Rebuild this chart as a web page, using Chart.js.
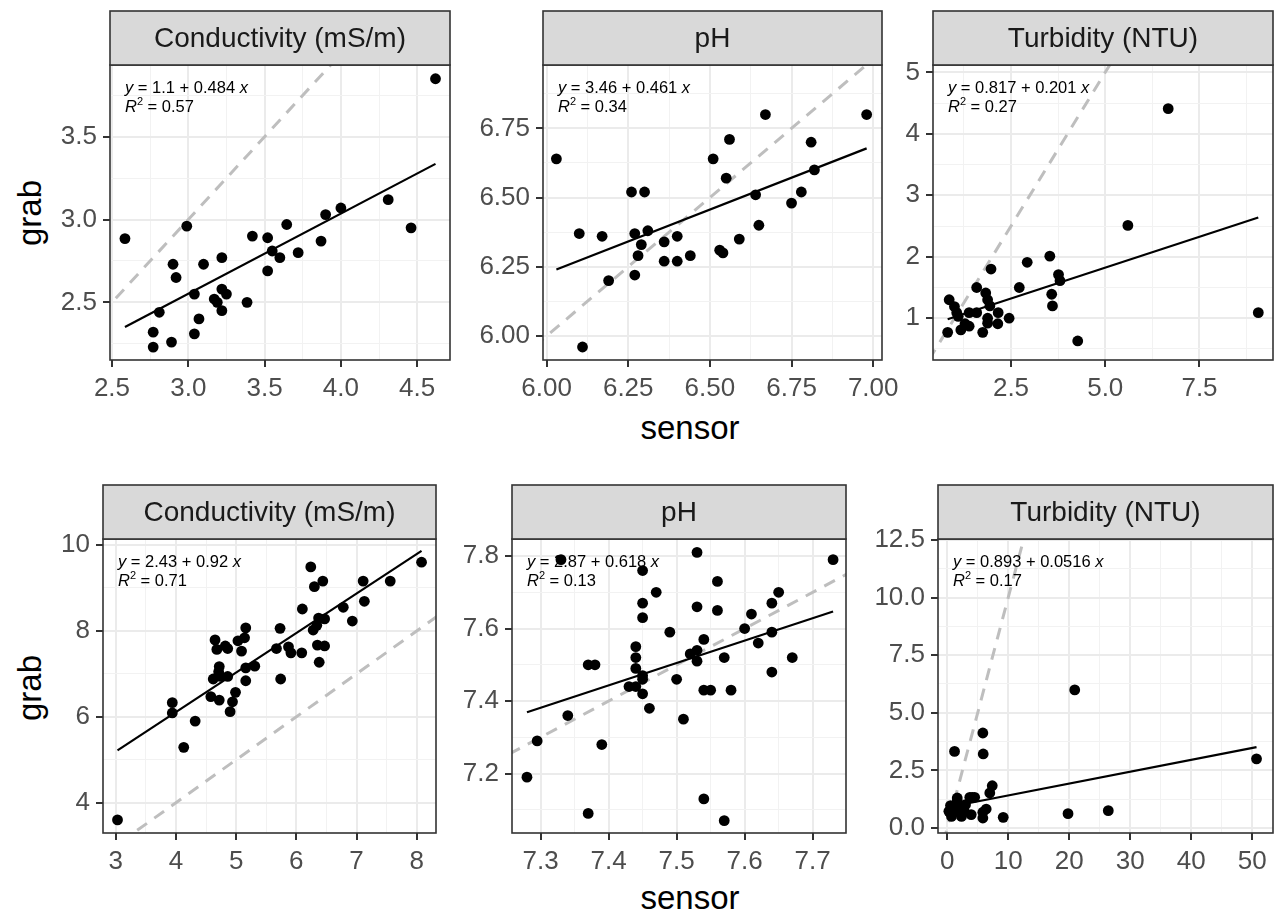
<!DOCTYPE html>
<html>
<head>
<meta charset="utf-8">
<script src="https://cdn.jsdelivr.net/npm/chart.js@4.4.1/dist/chart.umd.min.js"></script>
<style>
  body { margin: 0; background: #fff; width: 1280px; height: 914px; position: relative; overflow: hidden;
         font-family: "Liberation Sans", Arial, Helvetica, sans-serif; }
  canvas { position: absolute; }
  .axis-title { position: absolute; font-size: 33px; color: #000; white-space: nowrap; transform: translate(-50%, -50%); }
  .axis-title.rot { transform: translate(-50%, -50%) rotate(-90deg); }
</style>
</head>
<body>
<div class="axis-title rot" style="left:30px; top:213px;">grab</div>
<div class="axis-title rot" style="left:30px; top:688px;">grab</div>
<div class="axis-title" style="left:690px; top:428px;">sensor</div>
<div class="axis-title" style="left:690px; top:898px;">sensor</div>
<script>
'use strict';

const FONT = '"Liberation Sans", Arial, Helvetica, sans-serif';

// facet strip titles
const facetTitles = ['Conductivity (mS/m)', 'pH', 'Turbidity (NTU)'];

// top row
const condTopSensor = [4.62, 2.585, 2.99, 2.90, 2.92, 3.10, 3.22, 3.42, 3.52, 3.645, 3.55, 3.60, 3.72, 3.52, 3.90, 4.00,
  4.31, 4.46, 3.87, 3.04, 3.22, 3.25, 3.17, 3.19, 3.22, 3.385, 2.81, 3.07, 3.04, 2.77, 2.77, 2.89];
const condTopGrab = [3.85, 2.885, 2.96, 2.73, 2.65, 2.73, 2.77, 2.90, 2.89, 2.97, 2.81, 2.77, 2.80, 2.69, 3.03, 3.07,
  3.12, 2.95, 2.87, 2.55, 2.58, 2.55, 2.52, 2.50, 2.45, 2.50, 2.44, 2.40, 2.31, 2.32, 2.23, 2.26];

const phTopSensor = [6.03, 6.10, 6.11, 6.17, 6.19, 6.26, 6.30, 6.27, 6.31, 6.29, 6.28, 6.27, 6.36, 6.40, 6.36, 6.40,
  6.44, 6.51, 6.56, 6.55, 6.53, 6.54, 6.59, 6.64, 6.65, 6.67, 6.75, 6.78, 6.81, 6.82, 6.98];
const phTopGrab = [6.64, 6.37, 5.96, 6.36, 6.20, 6.52, 6.52, 6.37, 6.38, 6.33, 6.29, 6.22, 6.34, 6.36, 6.27, 6.27,
  6.29, 6.64, 6.71, 6.57, 6.31, 6.30, 6.35, 6.51, 6.40, 6.80, 6.48, 6.52, 6.70, 6.60, 6.80];

const turbTopSensor = [6.67, 5.60, 9.06, 4.27, 3.53, 3.76, 3.80, 3.58, 3.60, 2.93, 2.72, 1.97, 1.59, 1.83, 1.88, 1.94,
  2.16, 2.45, 1.88, 2.15, 1.88, 1.75, 1.39, 1.28, 1.17, 0.82, 0.86, 1.00, 1.06, 1.39, 1.59, 1.10];
const turbTopGrab = [4.41, 2.51, 1.09, 0.63, 2.01, 1.71, 1.61, 1.39, 1.20, 1.91, 1.50, 1.80, 1.50, 1.41, 1.30, 1.20,
  1.09, 1.00, 1.00, 0.91, 0.92, 0.77, 0.87, 0.91, 0.81, 0.77, 1.30, 1.19, 1.09, 1.09, 1.09, 1.03];

// bottom row
const condBotSensor = [3.03, 8.08, 3.94, 3.94, 4.13, 4.32, 4.58, 4.72, 4.90, 4.94, 4.99, 4.62, 4.72, 4.71, 4.86, 4.74,
  4.65, 4.68, 4.82, 4.86, 5.03, 5.09, 5.14, 5.16, 5.16, 5.16, 5.31, 5.67, 5.73, 5.74, 5.87, 5.91, 6.09, 6.10, 6.24,
  6.30, 6.44, 6.28, 6.34, 6.37, 6.47, 6.35, 6.47, 6.38, 6.78, 6.93, 7.11, 7.13, 7.56];
const condBotGrab = [3.60, 9.60, 6.33, 6.09, 5.29, 5.90, 6.47, 6.39, 6.12, 6.35, 6.57, 6.88, 7.17, 7.05, 6.94, 6.94,
  7.79, 7.57, 7.65, 7.59, 7.77, 7.53, 7.84, 8.07, 7.14, 6.84, 7.18, 7.59, 8.06, 6.88, 7.63, 7.49, 7.49, 8.51, 9.49,
  9.03, 9.16, 8.02, 8.13, 8.30, 8.28, 7.67, 7.65, 7.27, 8.55, 8.23, 9.16, 8.69, 9.16];

const phBotSensor = [7.73, 7.53, 7.33, 7.45, 7.56, 7.47, 7.45, 7.45, 7.53, 7.56, 7.49, 7.44, 7.44, 7.44, 7.45, 7.45,
  7.43, 7.44, 7.45, 7.46, 7.37, 7.38, 7.34, 7.39, 7.37, 7.54, 7.57, 7.51, 7.50, 7.53, 7.53, 7.54, 7.52, 7.54, 7.55,
  7.57, 7.58, 7.60, 7.61, 7.62, 7.64, 7.65, 7.64, 7.64, 7.67, 7.28, 7.295];
const phBotGrab = [7.79, 7.81, 7.79, 7.76, 7.73, 7.70, 7.67, 7.63, 7.66, 7.65, 7.59, 7.55, 7.52, 7.49, 7.47, 7.46,
  7.44, 7.44, 7.42, 7.38, 7.50, 7.50, 7.36, 7.28, 7.09, 7.13, 7.07, 7.35, 7.46, 7.54, 7.51, 7.57, 7.53, 7.43, 7.43,
  7.52, 7.43, 7.60, 7.64, 7.56, 7.67, 7.70, 7.59, 7.48, 7.52, 7.19, 7.29];

const turbBotSensor = [20.9, 50.7, 26.4, 19.8, 9.18, 5.84, 5.90, 1.20, 7.38, 6.98, 4.10, 3.70, 6.39, 5.84, 5.84, 3.93,
  1.64, 1.40, 0.54, 0.70, 2.34, 2.73, 2.00, 1.09, 3.00, 0.27, 1.64, 4.50];
const turbBotGrab = [5.99, 3.00, 0.75, 0.62, 0.46, 4.12, 3.21, 3.32, 1.83, 1.52, 1.33, 1.33, 0.82, 0.43, 0.68, 0.58,
  1.30, 0.97, 0.97, 0.50, 0.50, 0.79, 0.79, 0.72, 1.01, 0.72, 1.15, 1.33];

// fitted lines as printed in each panel
const fitIntercepts = [1.1, 3.46, 0.817, 2.43, 2.87, 0.893];
const fitSlopes = [0.484, 0.461, 0.201, 0.92, 0.618, 0.0516];
const fitR2 = ['0.57', '0.34', '0.27', '0.71', '0.13', '0.17'];

// tick labels
const condTopXTicks = ['2.5', '3.0', '3.5', '4.0', '4.5'];
const condTopYTicks = ['2.5', '3.0', '3.5'];
const phTopXTicks = ['6.00', '6.25', '6.50', '6.75', '7.00'];
const phTopYTicks = ['6.00', '6.25', '6.50', '6.75'];
const turbTopXTicks = ['2.5', '5.0', '7.5'];
const turbTopYTicks = ['1', '2', '3', '4', '5'];
const condBotXTicks = ['3', '4', '5', '6', '7', '8'];
const condBotYTicks = ['4', '6', '8', '10'];
const phBotXTicks = ['7.3', '7.4', '7.5', '7.6', '7.7'];
const phBotYTicks = ['7.2', '7.4', '7.6', '7.8'];
const turbBotXTicks = ['0', '10', '20', '30', '40', '50'];
const turbBotYTicks = ['0.0', '2.5', '5.0', '7.5', '10.0', '12.5'];

// axis limits of each panel
const xLimits = [[2.487, 4.715], [5.989, 7.027], [0.431, 9.45], [2.789, 8.32], [7.258, 7.749], [-1.51, 53.4]];
const yLimits = [[2.152, 3.933], [5.913, 6.979], [0.32, 5.12], [3.295, 10.14], [7.036, 7.847], [-0.22, 12.54]];

// panel boxes on the page
const boxes = [
  { l: 110, r: 450, t: 65, b: 360 },
  { l: 543, r: 882, t: 65, b: 360 },
  { l: 933, r: 1273, t: 65, b: 360 },
  { l: 103, r: 436, t: 539, b: 833 },
  { l: 512, r: 846, t: 539, b: 833 },
  { l: 938, r: 1273, t: 539, b: 833 }
];
const STRIP_H = 55, AXIS_W = 90, AXIS_H = 55, PAD_R = 30;

const panels = [
  { x: condTopSensor, y: condTopGrab, xt: condTopXTicks, yt: condTopYTicks, title: facetTitles[0] },
  { x: phTopSensor, y: phTopGrab, xt: phTopXTicks, yt: phTopYTicks, title: facetTitles[1] },
  { x: turbTopSensor, y: turbTopGrab, xt: turbTopXTicks, yt: turbTopYTicks, title: facetTitles[2] },
  { x: condBotSensor, y: condBotGrab, xt: condBotXTicks, yt: condBotYTicks, title: facetTitles[0] },
  { x: phBotSensor, y: phBotGrab, xt: phBotXTicks, yt: phBotYTicks, title: facetTitles[1] },
  { x: turbBotSensor, y: turbBotGrab, xt: turbBotXTicks, yt: turbBotYTicks, title: facetTitles[2] }
];

// major ticks from the labels, minor ticks half way between them
function makeTicks(labels, lim) {
  const major = labels.map(s => ({ value: parseFloat(s), lab: s, isMajor: true }));
  const step = major[1].value - major[0].value;
  const all = major.slice();
  for (let i = -1; i < major.length; i++) {
    const v = major[0].value + (i + 0.5) * step;
    if (v > lim[0] && v < lim[1]) all.push({ value: v, lab: '', isMajor: false });
  }
  return all.sort((a, b) => a.value - b.value);
}

function drawParts(ctx, parts, x, y) {
  parts.forEach(p => {
    const size = p.small ? 11 : 16.5;
    ctx.font = (p.it ? 'italic ' : '') + size + 'px ' + FONT;
    ctx.fillText(p.t, x, y + (p.dy || 0));
    x += ctx.measureText(p.t).width;
  });
}

const panelDecor = {
  id: 'panelDecor',
  afterDatasetsDraw(chart, args, o) {
    const { ctx, chartArea: ca } = chart;
    ctx.save();
    ctx.fillStyle = '#000';
    ctx.textAlign = 'left';
    ctx.textBaseline = 'alphabetic';
    const x = ca.left + 15, y = ca.top + 28;
    drawParts(ctx, [{ t: 'y', it: true }, { t: ' = ' + o.a + ' + ' + o.b + ' ' }, { t: 'x', it: true }], x, y);
    drawParts(ctx, [{ t: 'R', it: true }, { t: '2', small: true, dy: -7 }, { t: ' = ' + o.r2 }], x, y + 19);
    ctx.restore();
  },
  afterDraw(chart, args, o) {
    const { ctx, chartArea: ca } = chart;
    const w = ca.right - ca.left;
    ctx.save();
    ctx.strokeStyle = '#333';
    ctx.lineWidth = 1.6;
    ctx.strokeRect(ca.left, ca.top, w, ca.bottom - ca.top);
    ctx.fillStyle = '#d9d9d9';
    ctx.fillRect(ca.left, ca.top - STRIP_H + 1, w, STRIP_H - 1);
    ctx.strokeRect(ca.left, ca.top - STRIP_H + 1, w, STRIP_H - 1);
    ctx.fillStyle = '#1a1a1a';
    ctx.font = '28px ' + FONT;
    ctx.textAlign = 'center';
    ctx.textBaseline = 'middle';
    ctx.fillText(o.title, (ca.left + ca.right) / 2, ca.top - STRIP_H / 2 + 2);
    ctx.restore();
  }
};

function axisOpts(labels, lim, fit) {
  const ticks = makeTicks(labels, lim);
  return {
    type: 'linear',
    min: lim[0],
    max: lim[1],
    bounds: 'data',
    afterBuildTicks: s => { s.ticks = ticks.map(t => Object.assign({}, t)); },
    afterFit: fit,
    border: { display: false },
    grid: {
      color: c => (c.tick && c.tick.isMajor ? '#ebebeb' : '#f2f2f2'),
      lineWidth: c => (c.tick && c.tick.isMajor ? 2 : 1),
      tickColor: c => (c.tick && c.tick.isMajor ? '#333' : 'rgba(0,0,0,0)'),
      tickWidth: 2,
      tickLength: 7,
      drawTicks: true
    },
    ticks: {
      autoSkip: false,
      maxRotation: 0,
      minRotation: 0,
      padding: 6,
      color: '#4d4d4d',
      font: { size: 26, family: FONT },
      callback: (v, i, arr) => (arr[i].isMajor ? arr[i].lab : '')
    }
  };
}

panels.forEach((p, i) => {
  const box = boxes[i];
  const c = document.createElement('canvas');
  const w = AXIS_W + (box.r - box.l) + PAD_R;
  const h = STRIP_H + (box.b - box.t) + AXIS_H;
  c.width = w;
  c.height = h;
  c.style.left = (box.l - AXIS_W) + 'px';
  c.style.top = (box.t - STRIP_H) + 'px';
  c.style.width = w + 'px';
  c.style.height = h + 'px';
  document.body.appendChild(c);

  const pts = p.x.map((v, k) => ({ x: v, y: p.y[k] }));
  const x0 = Math.min(...p.x), x1 = Math.max(...p.x);
  const a = fitIntercepts[i], b = fitSlopes[i];
  const lo = Math.min(xLimits[i][0], yLimits[i][0]);
  const hi = Math.max(xLimits[i][1], yLimits[i][1]);

  new Chart(c, {
    type: 'scatter',
    data: {
      datasets: [
        { data: [{ x: x0, y: a + b * x0 }, { x: x1, y: a + b * x1 }], showLine: true,
          borderColor: '#000', borderWidth: 2.2, pointRadius: 0, clip: 0 },
        { data: pts, pointRadius: 5.4, backgroundColor: '#000', pointBackgroundColor: '#000',
          borderColor: '#000', pointBorderColor: '#000', borderWidth: 0, pointBorderWidth: 0, clip: false },
        { data: [{ x: lo, y: lo }, { x: hi, y: hi }], showLine: true, borderColor: '#bebebe',
          borderWidth: 3, borderDash: [12, 9], pointRadius: 0, clip: 0 }
      ]
    },
    options: {
      responsive: false,
      animation: false,
      events: [],
      layout: { padding: { top: STRIP_H, right: PAD_R, left: 0, bottom: 0 } },
      plugins: {
        legend: { display: false },
        tooltip: { enabled: false },
        panelDecor: { title: p.title, a: a, b: b, r2: fitR2[i] }
      },
      scales: {
        x: axisOpts(p.xt, xLimits[i], s => { s.height = AXIS_H; }),
        y: axisOpts(p.yt, yLimits[i], s => { s.width = AXIS_W; })
      }
    },
    plugins: [panelDecor]
  });
});
</script>
</body>
</html>
